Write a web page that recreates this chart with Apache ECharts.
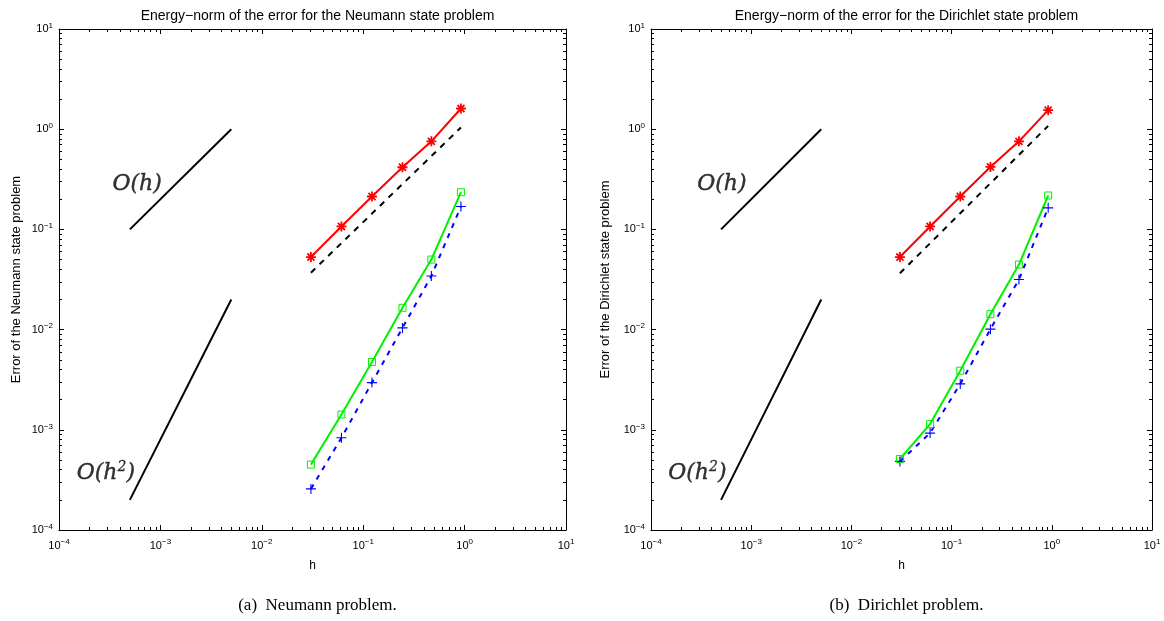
<!DOCTYPE html>
<html>
<head>
<meta charset="utf-8">
<script src="https://cdn.jsdelivr.net/npm/echarts@6/dist/echarts.min.js"></script>
<style>
html,body{margin:0;padding:0;background:#fff;}
#chart{width:1164px;height:621px;}
</style>
</head>
<body>
<div id="chart"></div>
<script>
// ---- data ----
const hValues = [0.0305, 0.061, 0.122, 0.244, 0.47, 0.92];

const neumannRed   = [0.053, 0.107, 0.213, 0.417, 0.757, 1.61];
const neumannGreen = [0.000449, 0.00142, 0.00475, 0.0165, 0.050, 0.235];
const neumannBlue  = [0.000257, 0.000832, 0.00296, 0.0104, 0.0343, 0.169];
const neumannDashH = [0.0305, 0.92];
const neumannDashE = [0.037, 1.04];

const dirichletRed   = [0.053, 0.107, 0.213, 0.42, 0.757, 1.55];
const dirichletGreen = [0.000511, 0.00114, 0.00389, 0.01426, 0.0446, 0.218];
const dirichletBlue  = [0.000484, 0.000927, 0.00287, 0.0101, 0.0316, 0.164];
const dirichletDashH = [0.0305, 0.92];
const dirichletDashE = [0.0365, 1.08];

const refH  = [5e-4, 5e-3];
const refO1 = [0.1, 1];
const refO2 = [2e-4, 2e-2];

const xMajorTicks = [1e-4, 1e-3, 1e-2, 1e-1, 1e0, 1e1];
const minorMultipliers = [2, 3, 4, 5, 6, 7, 8, 9];

const titles = ['Energy\u2212norm of the error for the Neumann state problem',
                'Energy\u2212norm of the error for the Dirichlet state problem'];
const yNames = ['Error of the Neumann state problem', 'Error of the Dirichlet state problem'];
const captions = ['(a)  Neumann problem.', '(b)  Dirichlet problem.'];
const orderLabels = ['O(h)', 'O(h{sup|2})'];
// annotation anchor positions (data coords) per panel
const annotPos = [
  [[5.9e-4, 0.284], [2.9e-4, 3.7e-4]],
  [[5.1e-4, 0.284], [2.9e-4, 3.7e-4]]
];

// ---- build ----
const minorTicks = [];
for (let i = 0; i < xMajorTicks.length - 1; i++) {
  minorMultipliers.forEach(m => minorTicks.push(+(m * xMajorTicks[i]).toPrecision(3)));
}
const zip = (a, b) => a.map((v, i) => [v, b[i]]);

const asterisk = 'path://M-0.9,-5L0.9,-5L0.9,5L-0.9,5Z M-5,-0.9L5,-0.9L5,0.9L-5,0.9Z M-2.9,-4.17L4.17,2.9L2.9,4.17L-4.17,-2.9Z M2.9,-4.17L4.17,-2.9L-2.9,4.17L-4.17,2.9Z';
const plus = 'path://M-0.55,-5L0.55,-5L0.55,5L-0.55,5Z M-5,-0.55L5,-0.55L5,0.55L-5,0.55Z';

const supLabel = v => {
  const e = Math.round(Math.log10(v));
  return '10{sup|' + (e < 0 ? '\u2212' + (-e) : e) + '}';
};
const tickRich = {
  sup: { fontSize: 8, color: '#000', fontFamily: 'Liberation Sans', padding: [0, 0, 7, 0] }
};

const grids = [
  { left: 59, top: 29, width: 507, height: 501 },
  { left: 651, top: 29, width: 501, height: 501 }
];
const yNameGaps = [36, 39];

const xAxes = [], yAxes = [], series = [], titleArr = [];
const axisLineStyle = { show: true, lineStyle: { color: '#000', width: 1 } };

grids.forEach((g, gi) => {
  const base = { type: 'log', logBase: 10, min: 1e-4, max: 10, gridIndex: gi, splitLine: { show: false } };
  const xMainIdx = xAxes.length;
  xAxes.push(Object.assign({}, base, {
    position: 'bottom',
    axisLine: axisLineStyle,
    axisTick: { show: true, inside: true, length: 5, lineStyle: { color: '#000' } },
    axisLabel: { show: true, formatter: supLabel, rich: tickRich, color: '#000', fontSize: 11, fontFamily: 'Liberation Sans', margin: 8 },
    name: 'h', nameLocation: 'middle', nameGap: 30,
    nameTextStyle: { color: '#000', fontSize: 12, fontFamily: 'Liberation Sans' }
  }));
  xAxes.push(Object.assign({}, base, {
    position: 'bottom', axisLine: { show: false }, axisLabel: { show: false },
    axisTick: { show: true, inside: true, length: 3, customValues: minorTicks, lineStyle: { color: '#000' } }
  }));
  xAxes.push(Object.assign({}, base, {
    position: 'top', axisLine: axisLineStyle, axisLabel: { show: false },
    axisTick: { show: true, inside: true, length: 5, lineStyle: { color: '#000' } }
  }));
  xAxes.push(Object.assign({}, base, {
    position: 'top', axisLine: { show: false }, axisLabel: { show: false },
    axisTick: { show: true, inside: true, length: 3, customValues: minorTicks, lineStyle: { color: '#000' } }
  }));

  const yMainIdx = yAxes.length;
  yAxes.push(Object.assign({}, base, {
    position: 'left',
    axisLine: axisLineStyle,
    axisTick: { show: true, inside: true, length: 5, lineStyle: { color: '#000' } },
    axisLabel: { show: true, formatter: supLabel, rich: tickRich, color: '#000', fontSize: 11, fontFamily: 'Liberation Sans', margin: 6 },
    name: yNames[gi], nameLocation: 'middle', nameGap: yNameGaps[gi], nameRotate: 90,
    nameTextStyle: { color: '#000', fontSize: 13, fontFamily: 'Liberation Sans' }
  }));
  yAxes.push(Object.assign({}, base, {
    position: 'left', axisLine: { show: false }, axisLabel: { show: false },
    axisTick: { show: true, inside: true, length: 3, customValues: minorTicks, lineStyle: { color: '#000' } }
  }));
  yAxes.push(Object.assign({}, base, {
    position: 'right', axisLine: axisLineStyle, axisLabel: { show: false },
    axisTick: { show: true, inside: true, length: 5, lineStyle: { color: '#000' } }
  }));
  yAxes.push(Object.assign({}, base, {
    position: 'right', axisLine: { show: false }, axisLabel: { show: false },
    axisTick: { show: true, inside: true, length: 3, customValues: minorTicks, lineStyle: { color: '#000' } }
  }));

  const red = gi === 0 ? neumannRed : dirichletRed;
  const green = gi === 0 ? neumannGreen : dirichletGreen;
  const blue = gi === 0 ? neumannBlue : dirichletBlue;
  const dashH = gi === 0 ? neumannDashH : dirichletDashH;
  const dashE = gi === 0 ? neumannDashE : dirichletDashE;
  const ax = { xAxisIndex: xMainIdx, yAxisIndex: yMainIdx, animation: false, silent: true };

  series.push(Object.assign({ type: 'line', data: zip(refH, refO1), symbol: 'none',
    lineStyle: { color: '#000', width: 2 } }, ax));
  series.push(Object.assign({ type: 'line', data: zip(refH, refO2), symbol: 'none',
    lineStyle: { color: '#000', width: 2 } }, ax));
  series.push(Object.assign({ type: 'line', data: zip(dashH, dashE), symbol: 'none',
    lineStyle: { color: '#000', width: 2, type: [6, 6] } }, ax));
  series.push(Object.assign({ type: 'line', data: zip(hValues, blue), symbol: plus, symbolSize: 10,
    itemStyle: { color: '#0000ff' },
    lineStyle: { color: '#0000ff', width: 2, type: [5, 6] } }, ax));
  series.push(Object.assign({ type: 'line', data: zip(hValues, green), symbol: 'rect', symbolSize: 7,
    itemStyle: { color: 'rgba(255,255,255,0)', borderColor: '#00f000', borderWidth: 1 },
    lineStyle: { color: '#00f000', width: 2 } }, ax));
  series.push(Object.assign({ type: 'line', data: zip(hValues, red), symbol: asterisk, symbolSize: 10,
    itemStyle: { color: '#ff0000' },
    lineStyle: { color: '#ff0000', width: 2 } }, ax));
  series.push(Object.assign({ type: 'scatter', symbolSize: 1, itemStyle: { color: 'rgba(0,0,0,0)' },
    data: annotPos[gi].map((p, k) => ({ value: p, name: orderLabels[k] })),
    label: { show: true, position: 'inside', formatter: p => p.name,
      color: '#000', fontSize: 22, fontStyle: 'italic', fontFamily: 'DejaVu Serif',
      textBorderColor: '#000', textBorderWidth: 0.4,
      rich: { sup: { fontSize: 14, fontStyle: 'italic', fontFamily: 'DejaVu Serif', color: '#000',
        textBorderColor: '#000', textBorderWidth: 0.3, padding: [0, 0, 12, 0] } } } }, ax));

  const cx = g.left + g.width / 2;
  titleArr.push({ text: titles[gi], left: cx, top: 4, textAlign: 'center',
    textStyle: { color: '#000', fontSize: 14, fontWeight: 'normal', fontFamily: 'Liberation Sans' } });
  titleArr.push({ text: captions[gi], left: cx, top: 592, textAlign: 'center',
    textStyle: { color: '#000', fontSize: 17, fontWeight: 'normal', fontFamily: 'Liberation Serif' } });
});

const chart = echarts.init(document.getElementById('chart'), null, { renderer: 'canvas' });
chart.setOption({
  animation: false,
  backgroundColor: '#fff',
  title: titleArr,
  grid: grids,
  xAxis: xAxes,
  yAxis: yAxes,
  series: series
});
</script>
</body>
</html>
